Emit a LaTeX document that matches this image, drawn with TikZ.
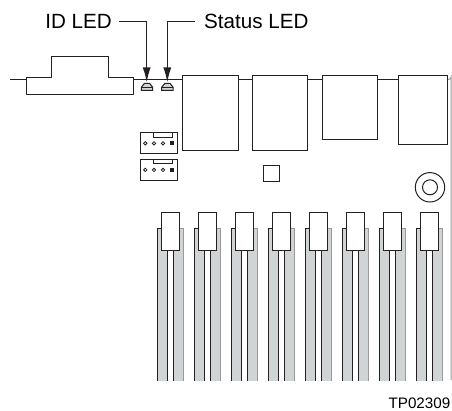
\documentclass[tikz,border=0pt]{standalone}
\usepackage{fontspec}
\setmainfont{Liberation Sans}
\usetikzlibrary{arrows.meta}
\definecolor{ink}{rgb}{0.14,0.12,0.13}
\definecolor{slotgray}{rgb}{0.82,0.83,0.83}
\definecolor{edgegray}{rgb}{0.6,0.6,0.6}
\tikzset{
  part/.style={draw=ink,line width=1pt,fill=white},
  leader/.style={color=ink,line width=1.5pt,-{Latex[length=15pt,width=8pt]}},
  callout/.style={inner sep=0pt,font=\fontsize{20.6}{24}\selectfont}
}
\newcommand{\memslot}[1]{%
\fill [slotgray,shift={(#1,0)}] (157.3,228.7) rectangle (183.3,381);
\fill [white,shift={(#1,0)}] (167.7,251) rectangle (173.3,381);
\draw [color=ink,line width=1pt,shift={(#1,0)}] (157.3,381) -- (157.3,228.7) -- (161.7,228.7);
\draw [color=edgegray,line width=1pt,shift={(#1,0)}] (179.3,228.7) -- (183.3,228.7) -- (183.3,381);
\draw [color=ink,line width=1pt,shift={(#1,0)}] (167.7,251) -- (167.7,381) (173.3,251) -- (173.3,381);
\draw [part,shift={(#1,0)}] (161.7,212.7) rectangle (179.3,251);
}
\newcommand{\ledcap}[1]{%
\draw [color=ink,line width=1pt,fill=slotgray,shift={(#1,0)}] (141.3,90.3) -- (141.3,87.3) -- (144.5,83.3) -- (149.5,83.3) -- (152.7,87.3) -- (152.7,90.3) -- cycle;
\draw [color=ink,line width=1pt,shift={(#1,0)}] (141.3,87.3) -- (152.7,87.3);
}
\newcommand{\fanheader}[1]{%
\draw [part,shift={(0,#1)}] (140.3,132.7) rectangle (177.3,154);
\draw [color=ink,line width=1pt,shift={(0,#1)}] (153.7,132.7) -- (153.7,137.3) -- (172.3,137.3) -- (172.3,132.7);
\draw [color=ink,line width=0.8pt,shift={(0,#1)}] (145.3,143.3) circle (1.7pt) (154,143.3) circle (1.7pt) (163,143.3) circle (1.7pt);
\fill [ink,shift={(0,#1)}] (170,141.2) rectangle (174,145.4);
}

\begin{document}
\begin{tikzpicture}[line cap=butt,line join=miter,x=1pt,y=-1pt]
\useasboundingbox (0,0) rectangle (452,411);
% board edge
\draw [color=ink,line width=1.4pt] (10,79.3) -- (447,79.3);
\draw [color=edgegray,line width=1pt] (447,79.3) -- (449,79.3) arc (90:0:2) -- (451,380);
% rear connectors
\draw [part,line join=round] (26,77.5) -- (51.5,77.5) -- (51.5,56.5) -- (108,56.5) -- (108,77.5) -- (133,77.5) -- (133,95) -- (26,95) -- cycle;
\draw [part] (182.5,75.5) rectangle (238.5,150.5);
\draw [part] (252.3,75.5) rectangle (307.3,150.7);
\draw [part] (322.3,75.5) rectangle (377.7,140);
\draw [part] (398,75.5) rectangle (447.3,144.3);
% leds
\ledcap{0}
\ledcap{20.4}
\coordinate (idtip) at (146.7,82.5);
\coordinate (statustip) at (167.3,82.5);
\node [callout,anchor=east] (idtext) at (112,21.5) {ID LED};
\node [callout,anchor=west] (statustext) at (204,21.5) {Status LED};
\draw [leader] ([xshift=7pt]idtext.east) -| (idtip);
\draw [leader] ([xshift=-9pt]statustext.west) -| (statustip);
% headers
\fanheader{0}
\fanheader{26.6}
\draw [part] (263.3,165.3) rectangle (279.3,182);
\draw [part] (430,187.3) circle (14.7pt);
\draw [part] (430,187.3) circle (7.5pt);
% memory slots
\memslot{0}
\memslot{37}
\memslot{74}
\memslot{111}
\memslot{148}
\memslot{185}
\memslot{222}
\memslot{259}
\node [anchor=east,inner sep=0pt,font=\fontsize{15.2}{18}\selectfont] (partno) at (450.5,403.5) {TP02309};
\end{tikzpicture}
\end{document}
